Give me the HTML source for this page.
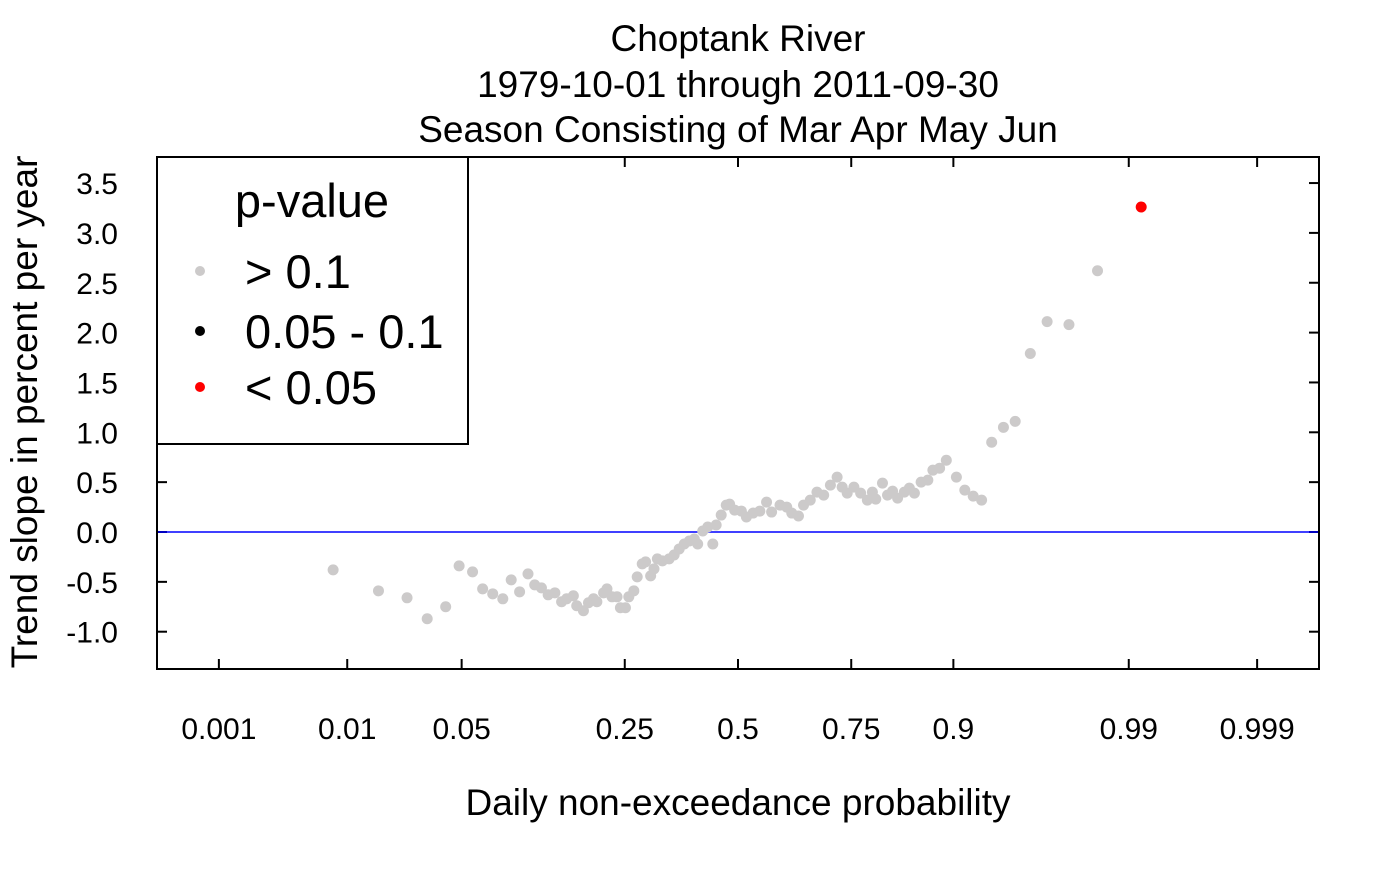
<!DOCTYPE html>
<html><head><meta charset="utf-8"><style>
body{margin:0;background:#fff}
svg text{font-family:"Liberation Sans",Arial,sans-serif;fill:#000}
</style></head><body>
<svg id="chart" width="1400" height="865" viewBox="0 0 1400 865" xmlns="http://www.w3.org/2000/svg">
<g font-size="37" text-anchor="middle">
<text x="738" y="51">Choptank River</text>
<text x="738" y="97">1979-10-01 through 2011-09-30</text>
<text x="738" y="142">Season Consisting of Mar Apr May Jun</text>
</g>
<g id="axes"></g>
<g id="marks"></g>
<rect x="157" y="157" width="1162" height="512" fill="none" stroke="#000" stroke-width="2"/>
<g>
<rect x="157" y="157" width="311" height="287" fill="#fff" stroke="#000" stroke-width="2"/>
<text x="312" y="217" font-size="47" text-anchor="middle">p-value</text>
<circle cx="200" cy="271" r="5" fill="#cccaca"/>
<text x="245" y="288" font-size="47">&gt; 0.1</text>
<circle cx="200" cy="331" r="5" fill="#000"/>
<text x="245" y="348" font-size="47">0.05 - 0.1</text>
<circle cx="200" cy="387" r="5" fill="#ff0000"/>
<text x="245" y="404" font-size="47">&lt; 0.05</text>
</g>
<text x="738" y="815" font-size="37" text-anchor="middle">Daily non-exceedance probability</text>
<text transform="translate(37,412) rotate(-90)" font-size="37" text-anchor="middle">Trend slope in percent per year</text>
</svg>
<script>
// normal quantile (probit) of each daily probability
const probitZ=[-2.41,-2.14,-1.97,-1.85,-1.74,-1.66,-1.58,-1.52,-1.46,-1.40,-1.35,-1.30,-1.25,-1.21,-1.17,-1.13,-1.09,-1.05,-1.02,-0.98,-0.96,-0.92,-0.89,-0.86,-0.84,-0.80,-0.78,-0.75,-0.72,-0.70,-0.67,-0.65,-0.62,-0.60,-0.57,-0.55,-0.52,-0.50,-0.48,-0.45,-0.41,-0.38,-0.35,-0.32,-0.29,-0.26,-0.24,-0.21,-0.18,-0.15,-0.13,-0.10,-0.07,-0.05,-0.02,0.02,0.05,0.09,0.13,0.17,0.20,0.25,0.29,0.32,0.36,0.39,0.43,0.47,0.51,0.55,0.59,0.62,0.65,0.69,0.73,0.77,0.80,0.82,0.86,0.89,0.92,0.95,0.99,1.02,1.05,1.09,1.13,1.16,1.20,1.24,1.30,1.35,1.40,1.45,1.51,1.58,1.65,1.74,1.84,1.97,2.14,2.40];
const trendSlope=[-0.38,-0.59,-0.66,-0.87,-0.75,-0.34,-0.40,-0.57,-0.62,-0.67,-0.48,-0.60,-0.42,-0.53,-0.56,-0.63,-0.61,-0.70,-0.67,-0.64,-0.74,-0.79,-0.71,-0.67,-0.70,-0.61,-0.57,-0.65,-0.65,-0.76,-0.76,-0.65,-0.59,-0.45,-0.32,-0.30,-0.44,-0.37,-0.27,-0.29,-0.27,-0.23,-0.17,-0.12,-0.09,-0.07,-0.12,0.01,0.05,-0.12,0.07,0.17,0.27,0.28,0.22,0.21,0.15,0.19,0.21,0.30,0.20,0.27,0.25,0.19,0.16,0.27,0.32,0.40,0.37,0.47,0.55,0.45,0.39,0.45,0.39,0.32,0.40,0.33,0.49,0.37,0.41,0.34,0.40,0.44,0.39,0.50,0.52,0.62,0.64,0.72,0.55,0.42,0.36,0.32,0.90,1.05,1.11,1.79,2.11,2.08,2.62,3.26];
const significance=Array(101).fill("gt0.1").concat(["lt0.05"]);
const xTickLabels=["0.001","0.01","0.05","0.25","0.5","0.75","0.9","0.99","0.999"];
const xTickZ=[-3.090,-2.326,-1.645,-0.674,0,0.674,1.282,2.326,3.090];
const yTicks=[-1.0,-0.5,0.0,0.5,1.0,1.5,2.0,2.5,3.0,3.5];

const NS="http://www.w3.org/2000/svg";
const xs=z=>738+z*168;
const ys=v=>532-v*99.7;
function mk(tag,attrs,parent){const e=document.createElementNS(NS,tag);for(const k in attrs)e.setAttribute(k,attrs[k]);parent.appendChild(e);return e;}
const axes=document.getElementById('axes'),marks=document.getElementById('marks');
xTickZ.forEach((z,i)=>{
  const x=xs(z);
  let t=mk('line',{x1:x,x2:x,y1:669,y2:659,stroke:'#000','stroke-width':2},axes);
  
  
  t=mk('line',{x1:x,x2:x,y1:157,y2:167,stroke:'#000','stroke-width':2},axes);
  
  
  const l=mk('text',{x:x,y:739,'font-size':30,'text-anchor':'middle'},axes);
  l.textContent=xTickLabels[i];
  
  
});
yTicks.forEach(v=>{
  const y=ys(v);
  let t=mk('line',{x1:157,x2:167,y1:y,y2:y,stroke:'#000','stroke-width':2},axes);
  
  
  t=mk('line',{x1:1319,x2:1309,y1:y,y2:y,stroke:'#000','stroke-width':2},axes);
  
  
  const l=mk('text',{x:118,y:y+11,'font-size':30,'text-anchor':'end'},axes);
  l.textContent=v.toFixed(1);
  
  
});
const zl=mk('line',{x1:157,x2:1319,y1:ys(0),y2:ys(0),stroke:'#0000ff','stroke-width':1.5},marks);


probitZ.forEach((z,i)=>{
  const c=mk('circle',{cx:xs(z),cy:ys(trendSlope[i]),r:5.5,fill:significance[i]==="lt0.05"?'#ff0000':'#cccaca'},marks);
  
  
});
</script>
</body></html>
